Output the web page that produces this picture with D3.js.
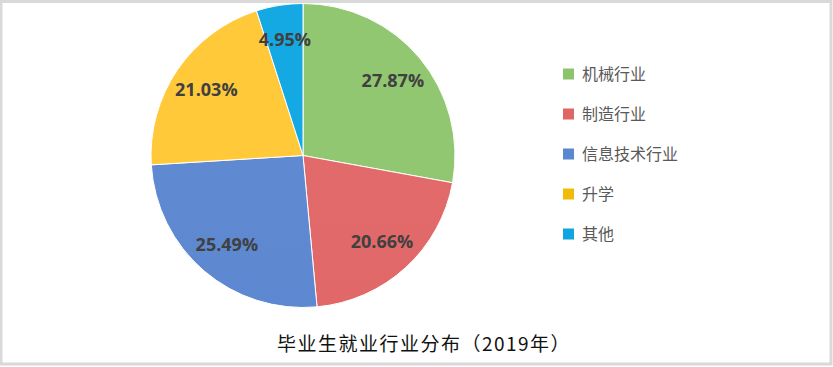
<!DOCTYPE html>
<html>
<head>
<meta charset="utf-8">
<script src="https://cdn.jsdelivr.net/npm/d3@7"></script>
<style>
  body { margin: 0; background: #fff; }
</style>
</head>
<body>
<div id="chart"></div>
<script>
// data
const categories = ["机械行业", "制造行业", "信息技术行业", "升学", "其他"];
const values = [27.87, 20.66, 25.49, 21.03, 4.95];
const colors = ["#8dc36a", "#e06666", "#5b87d0", "#f2bb08", "#0ea5e0"];
const colorsLight = ["#92c771", "#e36a6a", "#5f8ad2", "#ffc93a", "#14a9e3"];
const title = "毕业生就业行业分布（2019年）";

const W = 833, H = 367;
const svg = d3.select("#chart").append("svg")
    .attr("width", W).attr("height", H);

// frame
svg.append("rect")
    .attr("x", 1).attr("y", 1.5)
    .attr("width", W - 3).attr("height", H - 4.5)
    .attr("fill", "#fff").attr("stroke", "#d9d9d9").attr("stroke-width", 3);

const cx = 303, cy = 155.5, r = 152;

const defs = svg.append("defs");
colors.forEach((c, i) => {
    const g = defs.append("linearGradient")
        .attr("id", "grad" + i)
        .attr("gradientUnits", "userSpaceOnUse")
        .attr("x1", 0).attr("y1", cy - r).attr("x2", 0).attr("y2", cy + r);
    g.append("stop").attr("offset", "0%").attr("stop-color", colorsLight[i]);
    g.append("stop").attr("offset", "100%").attr("stop-color", c);
});

const pie = d3.pie().sort(null).value(d => d);
const arcs = pie(values);
const arc = d3.arc().innerRadius(0).outerRadius(r);
const labelArc = d3.arc().innerRadius(r * 0.77).outerRadius(r * 0.77);

const g = svg.append("g").attr("transform", `translate(${cx},${cy})`);

g.selectAll("path")
    .data(arcs)
    .join("path")
    .attr("d", arc)
    .attr("fill", (d, i) => `url(#grad${i})`)
    .attr("stroke", "#fff")
    .attr("stroke-width", 1);

g.selectAll("text.lbl")
    .data(arcs)
    .join("text")
    .attr("class", "lbl")
    .attr("transform", d => `translate(${labelArc.centroid(d)})`)
    .attr("text-anchor", "middle")
    .attr("dy", "0.35em")
    .attr("font-family", "'Open Sans', 'Noto Sans', sans-serif")
    .attr("font-weight", "bold")
    .attr("font-size", 18)
    .attr("fill", "#404040")
    .text(d => d.data.toFixed(2) + "%");

// legend
const legY = d3.scalePoint().domain(categories).range([74, 234]);
const leg = svg.append("g");
leg.selectAll("rect")
    .data(categories)
    .join("rect")
    .attr("x", 563)
    .attr("y", d => legY(d) - 5.5)
    .attr("width", 11).attr("height", 11)
    .attr("fill", (d, i) => colors[i]);
leg.selectAll("text")
    .data(categories)
    .join("text")
    .attr("x", 582)
    .attr("y", d => legY(d))
    .attr("dy", "0.36em")
    .attr("font-family", "'Noto Sans CJK SC', sans-serif")
    .attr("font-size", 16)
    .attr("fill", "#595959")
    .text(d => d);

// title
svg.append("text")
    .attr("x", 424)
    .attr("y", 351)
    .attr("text-anchor", "middle")
    .attr("font-family", "'Noto Sans CJK SC', serif")
    .attr("font-size", 19)
    .attr("letter-spacing", 1.5)
    .attr("fill", "#111")
    .text(title);
</script>
</body>
</html>
